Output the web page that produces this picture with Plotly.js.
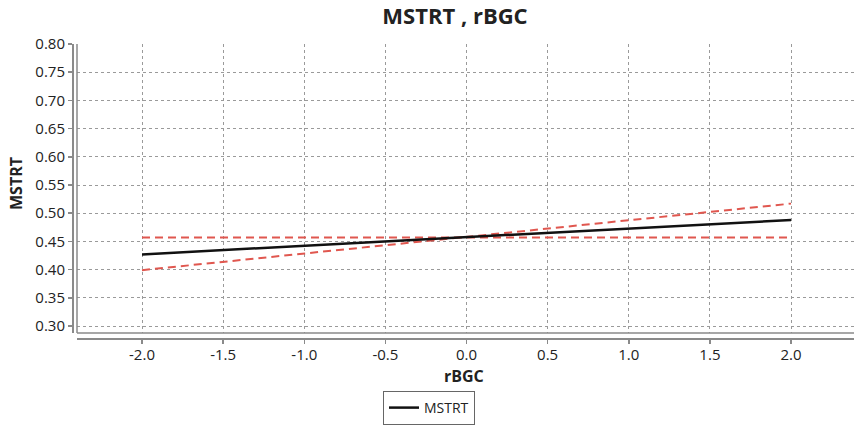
<!DOCTYPE html>
<html>
<head>
<meta charset="utf-8">
<script src="https://cdn.plot.ly/plotly-3.0.1.min.js"></script>
<style>
  html, body { margin: 0; padding: 0; background: #fff; }
  #chart { width: 854px; height: 425px; }
</style>
</head>
<body>
<div id="chart"></div>
<script>
// Predicted MSTRT across rBGC, with the bounds of the estimate
const rBGC = [-2.0, 2.0];
const mstrtFit = [0.427, 0.488];
const boundFlat = [0.457, 0.457];
const boundSloped = [0.399, 0.517];

const xTicks = [-2.0, -1.5, -1.0, -0.5, 0.0, 0.5, 1.0, 1.5, 2.0];
const xTickText = ['-2.0', '-1.5', '-1.0', '-0.5', '0.0', '0.5', '1.0', '1.5', '2.0'];
const yTicks = [0.30, 0.35, 0.40, 0.45, 0.50, 0.55, 0.60, 0.65, 0.70, 0.75, 0.80];
const yTickText = ['0.30', '0.35', '0.40', '0.45', '0.50', '0.55', '0.60', '0.65', '0.70', '0.75', '0.80'];

const red = '#e0574f';
const axisGray = '#8a8a8a';
const gridGray = '#9a9a9a';
const textFamily = 'Open Sans, Liberation Sans, sans-serif';
const labelFont = { family: textFamily, size: 15, color: '#222' };
const axisTitleFont = { family: textFamily, size: 16, color: '#222' };

const traces = [
  {
    x: rBGC, y: boundFlat, mode: 'lines', showlegend: false, hoverinfo: 'skip',
    line: { color: red, width: 2, dash: '8px,5px' }
  },
  {
    x: rBGC, y: boundSloped, mode: 'lines', showlegend: false, hoverinfo: 'skip',
    line: { color: red, width: 2, dash: '8px,5px' }
  },
  {
    x: rBGC, y: mstrtFit, mode: 'lines', name: 'MSTRT',
    line: { color: '#111', width: 2.5 }
  }
];

const W = 782, H = 294; // plot block between the offset axes
const layout = {
  width: 854, height: 425,
  margin: { l: 72, r: 0, t: 44, b: 87 },
  paper_bgcolor: '#fff', plot_bgcolor: '#fff',
  title: {
    text: '<b>MSTRT , rBGC</b>',
    font: { family: textFamily, size: 22, color: '#222' },
    x: 455 / 854, xref: 'container', xanchor: 'center',
    y: 1 - 16 / 425, yref: 'container', yanchor: 'middle'
  },
  xaxis: {
    domain: [5 / W, 1],
    anchor: 'free', position: 0,
    range: [-2.4006, 2.388],
    tickvals: xTicks, ticktext: xTickText,
    ticks: 'outside', ticklen: 4, tickcolor: axisGray, tickwidth: 1.5,
    ticklabelstandoff: -2,
    showline: true, linecolor: axisGray, linewidth: 1.5,
    showgrid: true, gridcolor: gridGray, griddash: 'dot', gridwidth: 1,
    zeroline: false,
    tickfont: labelFont
  },
  yaxis: {
    domain: [5 / H, 1],
    anchor: 'free', position: 0,
    range: [0.2876, 0.80],
    tickvals: yTicks, ticktext: yTickText,
    ticks: 'outside', ticklen: 4, tickcolor: axisGray, tickwidth: 1.5,
    showline: true, linecolor: axisGray, linewidth: 1.5,
    showgrid: true, gridcolor: gridGray, griddash: 'dot', gridwidth: 1,
    zeroline: false,
    tickfont: labelFont
  },
  annotations: [
    { text: '<b>rBGC</b>', font: axisTitleFont, showarrow: false,
      xref: 'paper', x: (464 - 72) / W, xanchor: 'center',
      yref: 'paper', y: (338 - 376) / H, yanchor: 'middle' },
    { text: '<b>MSTRT</b>', font: axisTitleFont, showarrow: false, textangle: -90,
      xref: 'paper', x: (16 - 72) / W, xanchor: 'center',
      yref: 'paper', y: (338 - 184) / H, yanchor: 'middle' }
  ],
  shapes: [
    { type: 'line', xref: 'x domain', yref: 'y domain', x0: 0, x1: 0, y0: 0, y1: 1,
      line: { color: axisGray, width: 1.5 } },
    { type: 'line', xref: 'x domain', yref: 'y domain', x0: 0, x1: 1, y0: 0, y1: 0,
      line: { color: axisGray, width: 1.5 } }
  ],
  legend: {
    orientation: 'h', x: (429 - 72) / W, xanchor: 'center', xref: 'paper',
    y: 1 - 408 / 425, yref: 'container', yanchor: 'middle',
    bordercolor: '#666', borderwidth: 1, bgcolor: '#fff',
    font: { family: textFamily, size: 14, color: '#222' },
    itemwidth: 30
  },
  showlegend: true
};

Plotly.newPlot('chart', traces, layout, { displayModeBar: false, staticPlot: true });
</script>
</body>
</html>
